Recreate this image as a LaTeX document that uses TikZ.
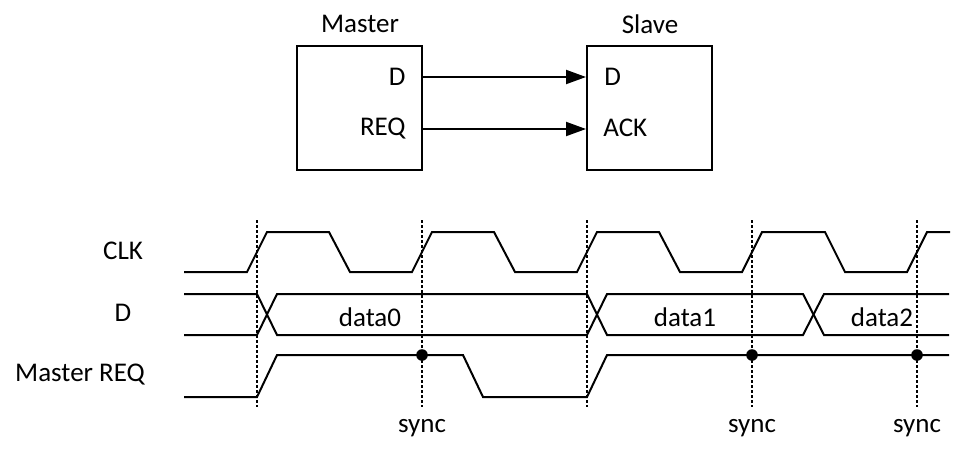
\documentclass[tikz,border=0pt]{standalone}
\usepackage{fontspec}
\setmainfont{Carlito}
\usepackage{tikz}
\usetikzlibrary{arrows.meta}

\tikzset{
	wave/.style={black, line width=1pt, line join=miter},
	block/.style={draw, line width=1pt, minimum width=62.5pt, minimum height=62pt, inner sep=0pt},
	syncline/.style={black, line width=0.8pt, dash pattern=on 1.5pt off 1pt},
	lbl/.style={inner sep=0pt, font=\fontsize{13.5}{16}\selectfont},
}

\begin{document}
\begin{tikzpicture}[x=0.5pt, y=-0.5pt]
	\useasboundingbox (0,0) rectangle (976,456);

	% blocks
	\node[block] (master) at (359.5,108) {};
	\node[block] (slave) at (649.5,108) {};
	\node[lbl] (mastername) at (360,24) {Master};
	\node[lbl] (slavename) at (650,24) {Slave};
	\node[lbl, anchor=east] (mD) at (406,77) {D};
	\node[lbl, anchor=east] (mREQ) at (406,129) {REQ};
	\node[lbl, anchor=west] (sD) at (604,77) {D};
	\node[lbl, anchor=west] (sACK) at (603,128) {ACK};
	\draw[wave, -{Triangle[length=10pt, width=7pt]}] (master.east |- mD) -- (slave.west |- mD);
	\draw[wave, -{Triangle[length=10pt, width=7pt]}] (master.east |- mREQ) -- (slave.west |- mREQ);

	% signal names
	\node[lbl] (clkname) at (123,251) {CLK};
	\node[lbl] (dname) at (123,313) {D};
	\node[lbl] (reqname) at (80,375) {Master REQ};

	% sync marks
	\foreach \x/\n in {257/a,422/b,587/c,752/d,917/e}
		\draw[syncline] (\x,220) coordinate (top\n) -- (\x,407) coordinate (bot\n);

	% CLK
	\draw[wave] (184,272) -- (247,272) -- (267,232) -- (329,232) -- (350,272) -- (412,272) -- (432,232) -- (494,232) -- (515,272)
		-- (577,272) -- (597,232) -- (659,232) -- (680,272) -- (742,272) -- (762,232) -- (825,232) -- (845,272) -- (907,272) -- (927,232) -- (950,232);

	% D
	\draw[wave] (184,294) -- (257,294) -- (277,335) -- (587,335) -- (607,294) -- (803,294) -- (824,335) -- (949,335);
	\draw[wave] (184,335) -- (257,335) -- (277,294) -- (587,294) -- (607,335) -- (803,335) -- (824,294) -- (949,294);
	\node[lbl] (data0) at (370,317) {data0};
	\node[lbl] (data1) at (685,317) {data1};
	\node[lbl] (data2) at (882,317) {data2};

	% Master REQ
	\draw[wave] (184,397) -- (257,397) -- (277,355) -- (463,355) -- (483,397) -- (587,397) -- (607,355) -- (949,355);
	\foreach \x/\n in {422/b,752/d,917/e} {
		\fill (\x,355) circle (2.9pt);
		\node[lbl] (sync\n) at (\x,428) {sync};
	}
\end{tikzpicture}
\end{document}
